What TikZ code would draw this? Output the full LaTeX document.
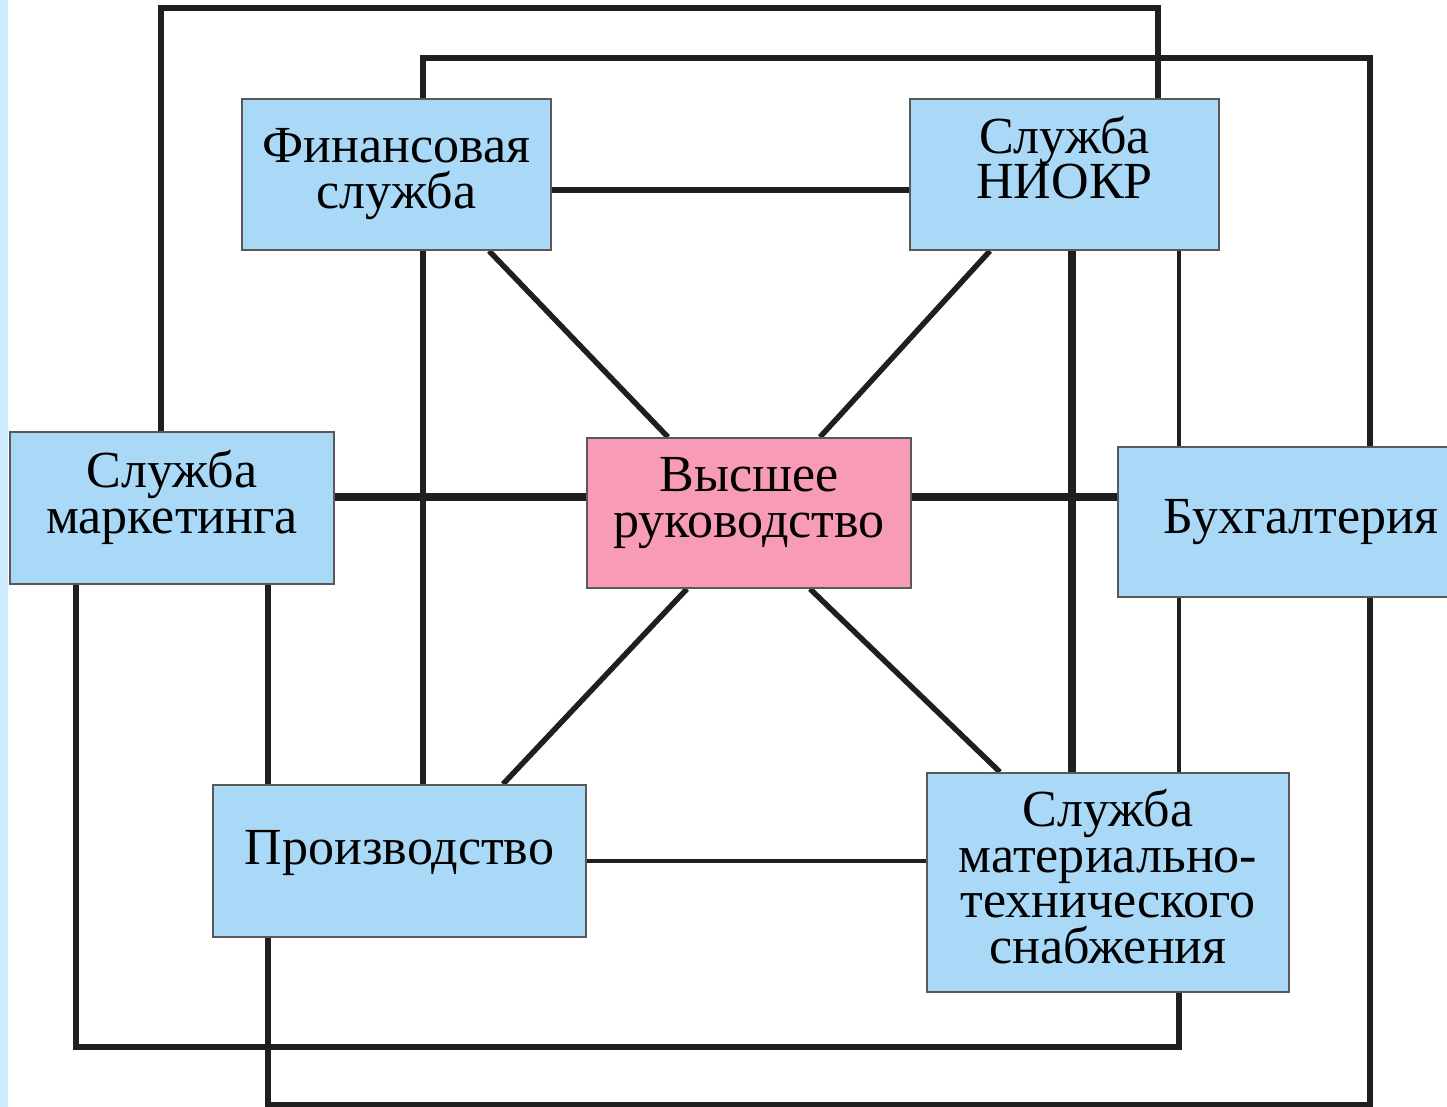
\documentclass[tikz,border=0pt]{standalone}
\usepackage{fontspec}
\setmainfont{Liberation Serif}
\usepackage{xcolor}
\usepackage{tikz}
\usetikzlibrary{backgrounds, calc}
\definecolor{unitblue}{HTML}{A9D9F7}
\definecolor{headpink}{HTML}{F79BB6}
\definecolor{stripblue}{HTML}{CDEBFF}

\begin{document}
\begin{tikzpicture}[
  x=0.01cm, y=-0.01cm,
  font=\fontsize{14.8}{13}\selectfont,
  box/.style={
    draw=black!65,
    line width=0.5pt,
    align=center,
    fill=unitblue,
    inner sep=2pt
  },
  headbox/.style={box,fill=headpink},
  lifted/.style={text depth=#1},
  link/.style={line width=1.55pt,black!88},
  boldlink/.style={line width=2pt,black!88},
  thinlink/.style={line width=1.05pt,black!88}
]
\useasboundingbox (0,0) rectangle (1447,1107);
\fill[stripblue] (0,0) rectangle (8,1107);

\node[headbox,minimum width=3.24cm,minimum height=1.50cm,lifted=8.7pt] (top) at (749,513)
{Высшее\\руководство};

\node[box,minimum width=3.09cm,minimum height=1.51cm,lifted=3.6pt] (fin) at (396.5,174.5)
{Финансовая\\служба};

\node[box,minimum width=3.09cm,minimum height=1.51cm,lifted=9.7pt] (niokr) at (1064.5,174.5)
{Служба\\НИОКР};

\node[box,minimum width=3.24cm,minimum height=1.52cm,lifted=9.2pt] (mkt) at (172,508)
{Служба\\маркетинга};

\node[box,minimum width=3.66cm,minimum height=1.50cm] (buh) at (1301,522)
{Бухгалтерия};

\node[box,minimum width=3.73cm,minimum height=1.52cm,lifted=7.6pt] (prod) at (399.5,861)
{Производство};

\node[box,minimum width=3.62cm,minimum height=2.19cm,lifted=3.4pt] (mts) at (1108,882.5)
{Служба\\материально-\\технического\\снабжения};

% routing rails
\coordinate (railA) at (161,8);
\coordinate (railB) at (1158,8);
\coordinate (railC) at (423,58);
\coordinate (railD) at (1370,58);
\coordinate (railE) at (1370,1105);
\coordinate (railF) at (268,1105);
\coordinate (railG) at (76,1047);
\coordinate (railH) at (1179,1047);
\coordinate (railI) at (1072,0);
\coordinate (rowA) at (0,190);
\coordinate (rowB) at (0,497);

\begin{scope}[on background layer]
\draw[link] (mkt.north -| railA) |- (railB) -- (niokr.north -| railB);
\draw[link] (fin.north -| railC) |- (railD) -- (buh.north -| railD);
\draw[link] (buh.south -| railE) -- (railE) -| (prod.south -| railF);
\draw[link] (mkt.south -| railG) |- (railH) -- (mts.south -| railH);

\draw[link] (fin.east |- rowA) -- (niokr.west |- rowA);
\draw[boldlink] (mkt.east |- rowB) -- (top.west |- rowB);
\draw[boldlink] (top.east |- rowB) -- (buh.west |- rowB);
\draw[thinlink] (prod.east) -- (mts.west |- prod.east);

\draw[link] (fin.south -| railC) -- (prod.north -| railC);
\draw[link] (mkt.south -| railF) -- (prod.north -| railF);
\draw[boldlink] (niokr.south -| railI) -- (mts.north -| railI);
\draw[thinlink] (niokr.south -| railH) -- (buh.north -| railH);
\draw[thinlink] (buh.south -| railH) -- (mts.north -| railH);

\draw[link] ([xshift=9.25mm]fin.south) -- ([xshift=-8.1mm]top.north);
\draw[link] ([xshift=-7.45mm]niokr.south) -- ([xshift=7.1mm]top.north);
\draw[link] ([xshift=-6.2mm]top.south) -- ([xshift=10.35mm]prod.north);
\draw[link] ([xshift=6.1mm]top.south) -- ([xshift=-10.8mm]mts.north);
\end{scope}

\end{tikzpicture}
\end{document}
